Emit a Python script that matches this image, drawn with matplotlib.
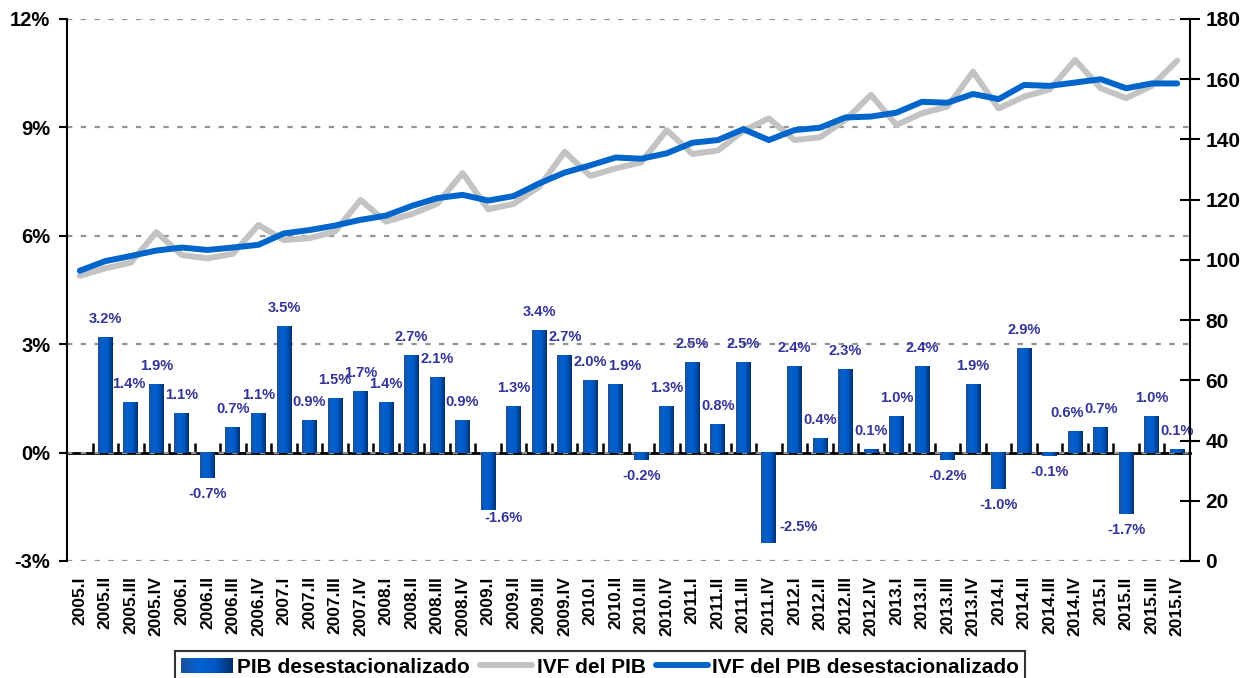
import numpy as np
import matplotlib
matplotlib.use('Agg')
import matplotlib.pyplot as plt
from matplotlib.colors import LinearSegmentedColormap
from matplotlib.legend_handler import HandlerBase
from matplotlib.patches import Rectangle
from matplotlib.lines import Line2D

plt.rcParams['font.family'] = ['Liberation Sans', 'DejaVu Sans']
plt.rcParams['font.weight'] = 'bold'

# quarters 2005.I .. 2015.IV
years = range(2005, 2016)
romans = ['I', 'II', 'III', 'IV']
quarters = [f'{y}.{r}' for y in years for r in romans]

# PIB desestacionalizado, % change vs previous quarter (no value for 2005.I)
pib_desest = [None, 3.2, 1.4, 1.9, 1.1, -0.7, 0.7, 1.1, 3.5, 0.9, 1.5, 1.7,
              1.4, 2.7, 2.1, 0.9, -1.6, 1.3, 3.4, 2.7, 2.0, 1.9, -0.2, 1.3,
              2.5, 0.8, 2.5, -2.5, 2.4, 0.4, 2.3, 0.1, 1.0, 2.4, -0.2, 1.9,
              -1.0, 2.9, -0.1, 0.6, 0.7, -1.7, 1.0, 0.1]

# IVF del PIB (index, right axis)
ivf_pib = [94.7, 97.2, 99.1, 109.2, 101.6, 100.5, 102.0, 111.6, 106.6, 107.2,
           109.4, 119.9, 112.7, 115.2, 118.6, 128.8, 116.8, 118.6, 124.3, 135.9,
           127.9, 130.4, 132.4, 143.1, 135.2, 136.3, 142.9, 147.0, 139.8, 140.7,
           146.5, 154.8, 144.8, 148.7, 150.9, 162.5, 150.3, 154.2, 156.6, 166.4,
           157.0, 153.7, 157.8, 166.2]

# IVF del PIB desestacionalizado (index, right axis)
ivf_desest = [96.4, 99.6, 101.3, 103.1, 104.1, 103.3, 104.1, 105.0, 108.8, 109.9,
              111.4, 113.3, 114.7, 117.9, 120.5, 121.6, 119.7, 121.2, 125.4, 129.0,
              131.4, 134.0, 133.6, 135.4, 138.9, 139.8, 143.4, 139.8, 143.1, 143.9,
              147.3, 147.6, 148.9, 152.5, 152.2, 155.1, 153.4, 158.1, 157.8, 158.9,
              160.0, 157.0, 158.6, 158.6]

label_color = '#33339A'
bar_cmap = LinearSegmentedColormap.from_list(
    'bar', ['#1d4f9e', '#0062d2', '#0058c4', '#00306f'])

x = np.arange(len(quarters))
bar_idx = [i for i, v in enumerate(pib_desest) if v is not None]
bar_vals = [pib_desest[i] for i in bar_idx]

fig = plt.figure(figsize=(12.58, 6.78), dpi=100)
ax = fig.add_axes([67 / 1258, 1 - 561 / 678, 1123 / 1258, 542 / 678])
ax2 = ax.twinx()

# bars with horizontal gradient
bars = ax.bar(bar_idx, bar_vals, width=0.58, color='none', edgecolor='none', zorder=2)
grad = np.linspace(0, 1, 64).reshape(1, -1)
for b in bars:
    x0, y0, w, h = b.get_x(), b.get_y(), b.get_width(), b.get_height()
    ax.imshow(grad, cmap=bar_cmap, extent=[x0, x0 + w, min(y0, y0 + h), max(y0, y0 + h)],
              aspect='auto', zorder=2, interpolation='bilinear')

# value labels (a few nudged sideways as in the original)
special = {27: (30, 16, 'center'), 16: (15, -8, 'center')}
nudge = {21: 9, 39: -8, 2: -2}
for i, v in zip(bar_idx, bar_vals):
    if i in special:
        dx, dy, va = special[i]
    elif v >= 0:
        dx, dy, va = nudge.get(i, 0), 11, 'bottom'
    else:
        dx, dy, va = 0, -9, 'top'
    ax.annotate(f'{v:.1f}%', (i, v), xytext=(dx, dy), textcoords='offset pixels',
                ha='center', va=va, fontsize=10.5, fontweight='bold', color=label_color,
                zorder=4)

ax.set_xlim(-0.5, len(quarters) - 0.5)
ax.set_ylim(-3, 12)
ax.set_yticks([-3, 0, 3, 6, 9, 12], ['-3%', '0%', '3%', '6%', '9%', '12%'])
ax.set_xticks(x, quarters, rotation=90)
ax.tick_params(axis='x', length=0, pad=11, labelsize=12.5)
ax.tick_params(axis='y', direction='out', length=6, width=1.5, labelsize=14.5, pad=6)
ax.yaxis.grid(True, color='#939393', linestyle=(0, (2.4, 3.8)), linewidth=1.6)
ax.set_axisbelow(True)
for s in ['top', 'bottom', 'right']:
    ax.spines[s].set_visible(False)
ax.spines['left'].set_linewidth(1.5)

# zero line with category-boundary ticks
zero_ax = ax.secondary_xaxis(0.2)
zero_ax.set_xticks(np.arange(0.5, len(quarters) - 0.5, 1))
zero_ax.tick_params(axis='x', direction='in', length=7, width=1.8, labelbottom=False)
zero_ax.spines['bottom'].set_linewidth(2)

# index lines on the right axis
ax2.plot(x, ivf_pib, color='#C3C3C3', lw=4.3, solid_capstyle='round', zorder=3)
ax2.plot(x, ivf_desest, color='#0066CC', lw=4.3, solid_capstyle='round', zorder=4)
ax2.set_ylim(0, 180)
ax2.set_yticks(np.arange(0, 181, 20))
ax2.tick_params(axis='y', direction='inout', length=14, width=1.5, labelsize=15, pad=4)
for s in ['top', 'bottom', 'left']:
    ax2.spines[s].set_visible(False)
ax2.spines['right'].set_linewidth(1.5)


class GradientHandler(HandlerBase):
    def create_artists(self, legend, orig_handle, xdescent, ydescent, width, height,
                       fontsize, trans):
        n = 30
        arts = []
        for k in range(n):
            arts.append(Rectangle((-xdescent + width * k / n, -ydescent), width / n * 1.1,
                                  height, facecolor=bar_cmap(k / (n - 1)),
                                  edgecolor='none', transform=trans))
        return arts


bar_handle = Rectangle((0, 0), 1, 1)
handles = [bar_handle,
           Line2D([], [], color='#C3C3C3', lw=4.3, solid_capstyle='round'),
           Line2D([], [], color='#0066CC', lw=4.3, solid_capstyle='round')]
labels = ['PIB desestacionalizado', 'IVF del PIB', 'IVF del PIB desestacionalizado']
leg = fig.legend(handles, labels, loc='upper center', bbox_to_anchor=(0.477, 1 - 641 / 678),
                 ncol=3, frameon=True, fancybox=False, edgecolor='black',
                 prop={'size': 15, 'weight': 'bold'}, handlelength=2.5, handleheight=0.7,
                 handletextpad=0.2, columnspacing=0.5, borderpad=0.3,
                 handler_map={Rectangle: GradientHandler()})
leg.get_frame().set_linewidth(1.5)

fig.savefig('out.png', dpi=100)
